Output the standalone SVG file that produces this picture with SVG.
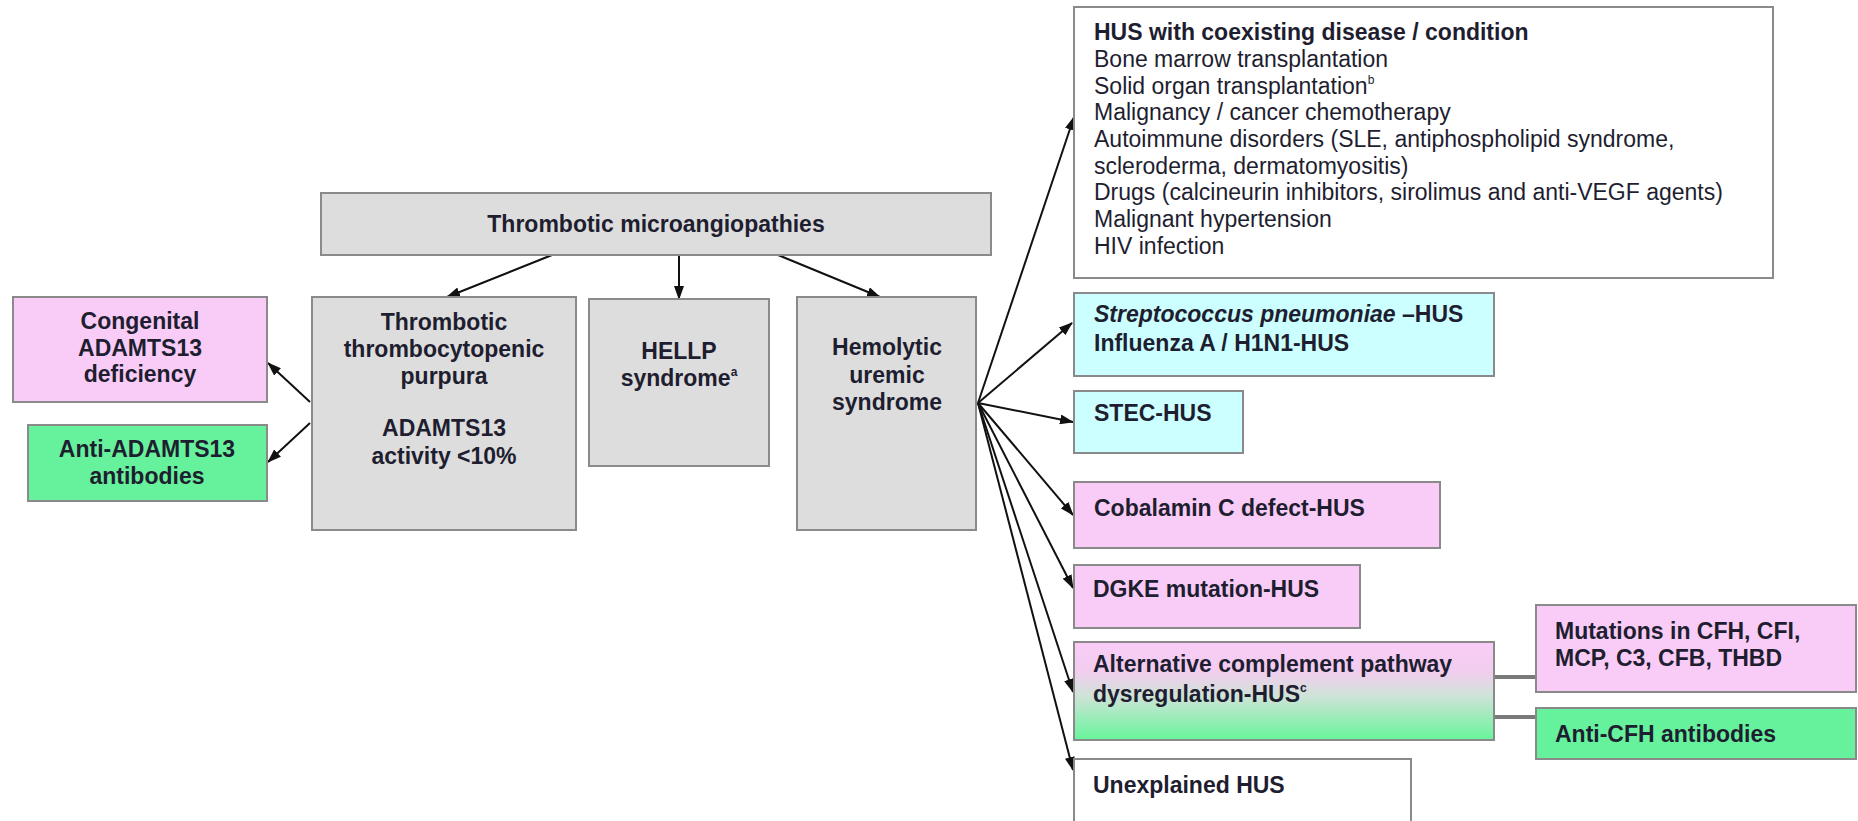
<svg xmlns="http://www.w3.org/2000/svg" width="1858" height="821" viewBox="0 0 1858 821">
<defs>
<style>
.box{stroke:#8a8a8a;stroke-width:2}
.gray{fill:#dddddd}
.pink{fill:#f9ccf7}
.green{fill:#66f29c}
.cyan{fill:#ccffff}
.white{fill:#ffffff}
text{font-family:"Liberation Sans",Arial,sans-serif;font-size:23px;fill:#1e1e30}
.b{font-weight:bold}
.c{text-anchor:middle}
.sup{font-size:12px}
.arr{stroke:#111;stroke-width:2;fill:none;marker-end:url(#ah)}
.link{stroke:#7a7a7a;stroke-width:4;fill:none}
</style>
<marker id="ah" markerUnits="userSpaceOnUse" markerWidth="14" markerHeight="10" refX="13" refY="5" orient="auto">
<path d="M0,0 L14,5 L0,10 z" fill="#111"/>
</marker>
<linearGradient id="acg" x1="0" y1="0" x2="0" y2="1">
<stop offset="0" stop-color="#f9ccf7"/>
<stop offset="0.3" stop-color="#f2cdef"/>
<stop offset="0.55" stop-color="#cfe3d8"/>
<stop offset="1" stop-color="#66f59a"/>
</linearGradient>
</defs>

<g id="connectors">
<line class="arr" x1="552" y1="255" x2="447" y2="297"/>
<line class="arr" x1="679" y1="255" x2="679" y2="299"/>
<line class="arr" x1="778" y1="255" x2="880" y2="297"/>
<line class="arr" x1="310" y1="402" x2="268" y2="363"/>
<line class="arr" x1="310" y1="423" x2="268" y2="462"/>
<line class="arr" x1="978" y1="403" x2="1074" y2="117"/>
<line class="arr" x1="978" y1="403" x2="1072" y2="323"/>
<line class="arr" x1="978" y1="403" x2="1073" y2="422"/>
<line class="arr" x1="978" y1="403" x2="1073" y2="515"/>
<line class="arr" x1="978" y1="403" x2="1073" y2="588"/>
<line class="arr" x1="978" y1="403" x2="1073" y2="692"/>
<line class="arr" x1="978" y1="403" x2="1073" y2="770"/>
<line class="link" x1="1494" y1="677" x2="1536" y2="677"/>
<line class="link" x1="1494" y1="717" x2="1536" y2="717"/>
</g>

<g id="tma">
<rect class="box gray" x="321" y="193" width="670" height="62"/>
<text class="b c" x="656" y="232">Thrombotic microangiopathies</text>
</g>

<g id="ttp">
<rect class="box gray" x="312" y="297" width="264" height="233"/>
<text class="b c" x="444" y="330">Thrombotic</text>
<text class="b c" x="444" y="357">thrombocytopenic</text>
<text class="b c" x="444" y="384">purpura</text>
<text class="b c" x="444" y="436">ADAMTS13</text>
<text class="b c" x="444" y="464">activity &lt;10%</text>
</g>

<g id="hellp">
<rect class="box gray" x="589" y="299" width="180" height="167"/>
<text class="b c" x="679" y="359">HELLP</text>
<text class="b c" x="679" y="386">syndrome<tspan class="sup" dy="-10">a</tspan></text>
</g>

<g id="hus">
<rect class="box gray" x="797" y="297" width="179" height="233"/>
<text class="b c" x="887" y="355">Hemolytic</text>
<text class="b c" x="887" y="383">uremic</text>
<text class="b c" x="887" y="410">syndrome</text>
</g>

<g id="congenital">
<rect class="box pink" x="13" y="297" width="254" height="105"/>
<text class="b c" x="140" y="329">Congenital</text>
<text class="b c" x="140" y="356">ADAMTS13</text>
<text class="b c" x="140" y="382">deficiency</text>
</g>

<g id="anti-adamts13">
<rect class="box green" x="28" y="425" width="239" height="76"/>
<text class="b c" x="147" y="457">Anti-ADAMTS13</text>
<text class="b c" x="147" y="484">antibodies</text>
</g>

<g id="coexisting">
<rect class="box white" x="1074" y="7" width="699" height="271"/>
<text class="b" x="1094" y="40">HUS with coexisting disease / condition</text>
<text x="1094" y="67">Bone marrow transplantation</text>
<text x="1094" y="94">Solid organ transplantation<tspan class="sup" dy="-10">b</tspan></text>
<text x="1094" y="120">Malignancy / cancer chemotherapy</text>
<text x="1094" y="147">Autoimmune disorders (SLE, antiphospholipid syndrome,</text>
<text x="1094" y="174">scleroderma, dermatomyositis)</text>
<text x="1094" y="200">Drugs (calcineurin inhibitors, sirolimus and anti-VEGF agents)</text>
<text x="1094" y="227">Malignant hypertension</text>
<text x="1094" y="254">HIV infection</text>
</g>

<g id="strep">
<rect class="box cyan" x="1074" y="293" width="420" height="83"/>
<text class="b" x="1094" y="322"><tspan font-style="italic">Streptococcus pneumoniae</tspan> –HUS</text>
<text class="b" x="1094" y="351">Influenza A / H1N1-HUS</text>
</g>

<g id="stec">
<rect class="box cyan" x="1074" y="391" width="169" height="62"/>
<text class="b" x="1094" y="421">STEC-HUS</text>
</g>

<g id="cobalamin">
<rect class="box pink" x="1074" y="482" width="366" height="66"/>
<text class="b" x="1094" y="516">Cobalamin C defect-HUS</text>
</g>

<g id="dgke">
<rect class="box pink" x="1074" y="565" width="286" height="63"/>
<text class="b" x="1093" y="597">DGKE mutation-HUS</text>
</g>

<g id="complement">
<rect class="box" fill="url(#acg)" x="1074" y="642" width="420" height="98"/>
<text class="b" x="1093" y="672">Alternative complement  pathway</text>
<text class="b" x="1093" y="702">dysregulation-HUS<tspan class="sup" dy="-10">c</tspan></text>
</g>

<g id="mutations">
<rect class="box pink" x="1536" y="605" width="320" height="87"/>
<text class="b" x="1555" y="639">Mutations in CFH, CFI,</text>
<text class="b" x="1555" y="666">MCP, C3, CFB, THBD</text>
</g>

<g id="anti-cfh">
<rect class="box green" x="1536" y="708" width="320" height="51"/>
<text class="b" x="1555" y="742">Anti-CFH antibodies</text>
</g>

<g id="unexplained">
<rect class="box white" x="1074" y="759" width="337" height="70"/>
<text class="b" x="1093" y="793">Unexplained HUS</text>
</g>
</svg>
